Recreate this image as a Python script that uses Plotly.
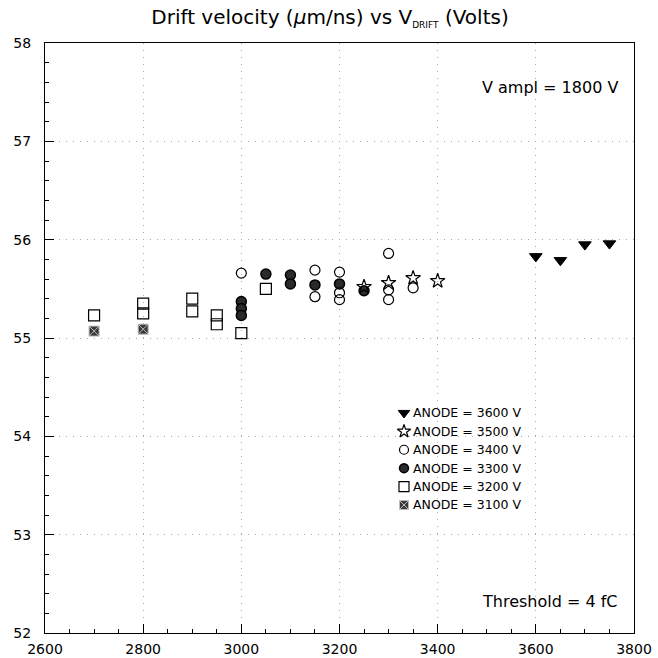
import plotly.graph_objects as go

# Drift velocity (um/ns) versus drift voltage, one series per anode voltage
x_3600 = [3600, 3650, 3700, 3750]
y_3600 = [55.83, 55.79, 55.95, 55.96]

x_3500 = [3250, 3300, 3350, 3400]
y_3500 = [55.52, 55.56, 55.61, 55.58]

x_3400 = [3000, 3150, 3150, 3200, 3200, 3200, 3300, 3300, 3300, 3350]
y_3400 = [55.66, 55.69, 55.42, 55.67, 55.46, 55.39, 55.86, 55.49, 55.39, 55.51]

x_3300 = [3000, 3000, 3000, 3050, 3100, 3100, 3150, 3200, 3250]
y_3300 = [55.37, 55.30, 55.23, 55.65, 55.64, 55.55, 55.54, 55.55, 55.48]

x_3200 = [2700, 2800, 2800, 2900, 2900, 2950, 2950, 3000, 3050]
y_3200 = [55.23, 55.35, 55.25, 55.40, 55.27, 55.23, 55.14, 55.05, 55.50]

x_3100 = [2700, 2800]
y_3100 = [55.07, 55.09]

legend_labels = ["ANODE = 3600 V", "ANODE = 3500 V", "ANODE = 3400 V",
                 "ANODE = 3300 V", "ANODE = 3200 V", "ANODE = 3100 V"]

x_ticks = [2600, 2800, 3000, 3200, 3400, 3600, 3800]
y_ticks = [52, 53, 54, 55, 56, 57, 58]

FONT = "DejaVu Sans"

styles = [
    dict(symbol="triangle-down", size=11, color="black", line=dict(color="black", width=1)),
    dict(symbol="star-open", size=11, color="black", line=dict(color="black", width=1.2)),
    dict(symbol="circle-open", size=10, color="black", line=dict(color="black", width=1.2)),
    dict(symbol="circle", size=10, color="#2a2a2a", line=dict(color="black", width=1.5)),
    dict(symbol="square-open", size=11, color="black", line=dict(color="black", width=1.2)),
    dict(symbol="square-x", size=10, color="#3a3a3a", line=dict(color="#bbbbbb", width=1)),
]

series = [(x_3600, y_3600), (x_3500, y_3500), (x_3400, y_3400),
          (x_3300, y_3300), (x_3200, y_3200), (x_3100, y_3100)]

fig = go.Figure()

# draw lower-anode series first so the higher ones sit on top
for (xs, ys), st, name in reversed(list(zip(series, styles, legend_labels))):
    fig.add_trace(go.Scatter(x=xs, y=ys, mode="markers", marker=st,
                             name=name, showlegend=False, cliponaxis=False))

# hand-placed legend block inside the frame
leg_x_sym = 0.6095
leg_x_txt = 0.621
leg_y0 = 0.373
leg_dy = 0.0312
for i, (st, name) in enumerate(zip(styles, legend_labels)):
    yy = leg_y0 - i * leg_dy
    mk = dict(st)
    mk["size"] = st["size"] - 1
    fig.add_trace(go.Scatter(x=[leg_x_sym], y=[yy], mode="markers", marker=mk,
                             xaxis="x2", yaxis="y2", showlegend=False,
                             hoverinfo="skip"))
    fig.add_annotation(x=leg_x_txt, y=yy, xref="x2", yref="y2", text=name,
                       showarrow=False, xanchor="left", yanchor="middle",
                       font=dict(family=FONT, size=12.5, color="black"))

fig.add_annotation(x=0.976, y=0.924, xref="paper", yref="paper",
                   text="V ampl = 1800 V", showarrow=False,
                   xanchor="right", yanchor="middle",
                   font=dict(family=FONT, size=16, color="black"))
fig.add_annotation(x=0.976, y=0.053, xref="paper", yref="paper",
                   text="Threshold = 4 fC", showarrow=False,
                   xanchor="right", yanchor="middle",
                   font=dict(family=FONT, size=16, color="black"))

axis_common = dict(
    showline=True, linecolor="black", linewidth=1.3, mirror=True,
    ticks="inside", ticklen=9, tickcolor="black", tickwidth=1,
    showgrid=True, gridcolor="#aaaaaa", gridwidth=1, griddash="1px,6px",
    zeroline=False, automargin=False,
    tickfont=dict(family=FONT, size=14, color="black"),
)

fig.update_layout(
    width=658, height=658,
    margin=dict(l=45, r=24, t=43, b=25),
    paper_bgcolor="white", plot_bgcolor="white",
    title=dict(
        text="Drift velocity (<i>μ</i>m/ns) vs V<sub><span style='font-size:9px'>DRIFT</span></sub> (Volts)",
        x=0.5015, xref="container", xanchor="center",
        y=0.974, yref="container", yanchor="middle",
        font=dict(family=FONT, size=20, color="black"),
    ),
    xaxis=dict(range=[2600, 3800], tickvals=x_ticks,
               minor=dict(ticks="inside", ticklen=4, dtick=50, tickcolor="black", showgrid=False),
               ticklabelstandoff=3, **axis_common),
    yaxis=dict(range=[52, 58], tickvals=y_ticks,
               minor=dict(ticks="inside", ticklen=4, dtick=0.2, tickcolor="black", showgrid=False),
               ticklabelstandoff=10, **axis_common),
    xaxis2=dict(range=[0, 1], overlaying="x", visible=False, fixedrange=True),
    yaxis2=dict(range=[0, 1], overlaying="y", visible=False, fixedrange=True),
    showlegend=False,
)

fig.write_html("out.html")
